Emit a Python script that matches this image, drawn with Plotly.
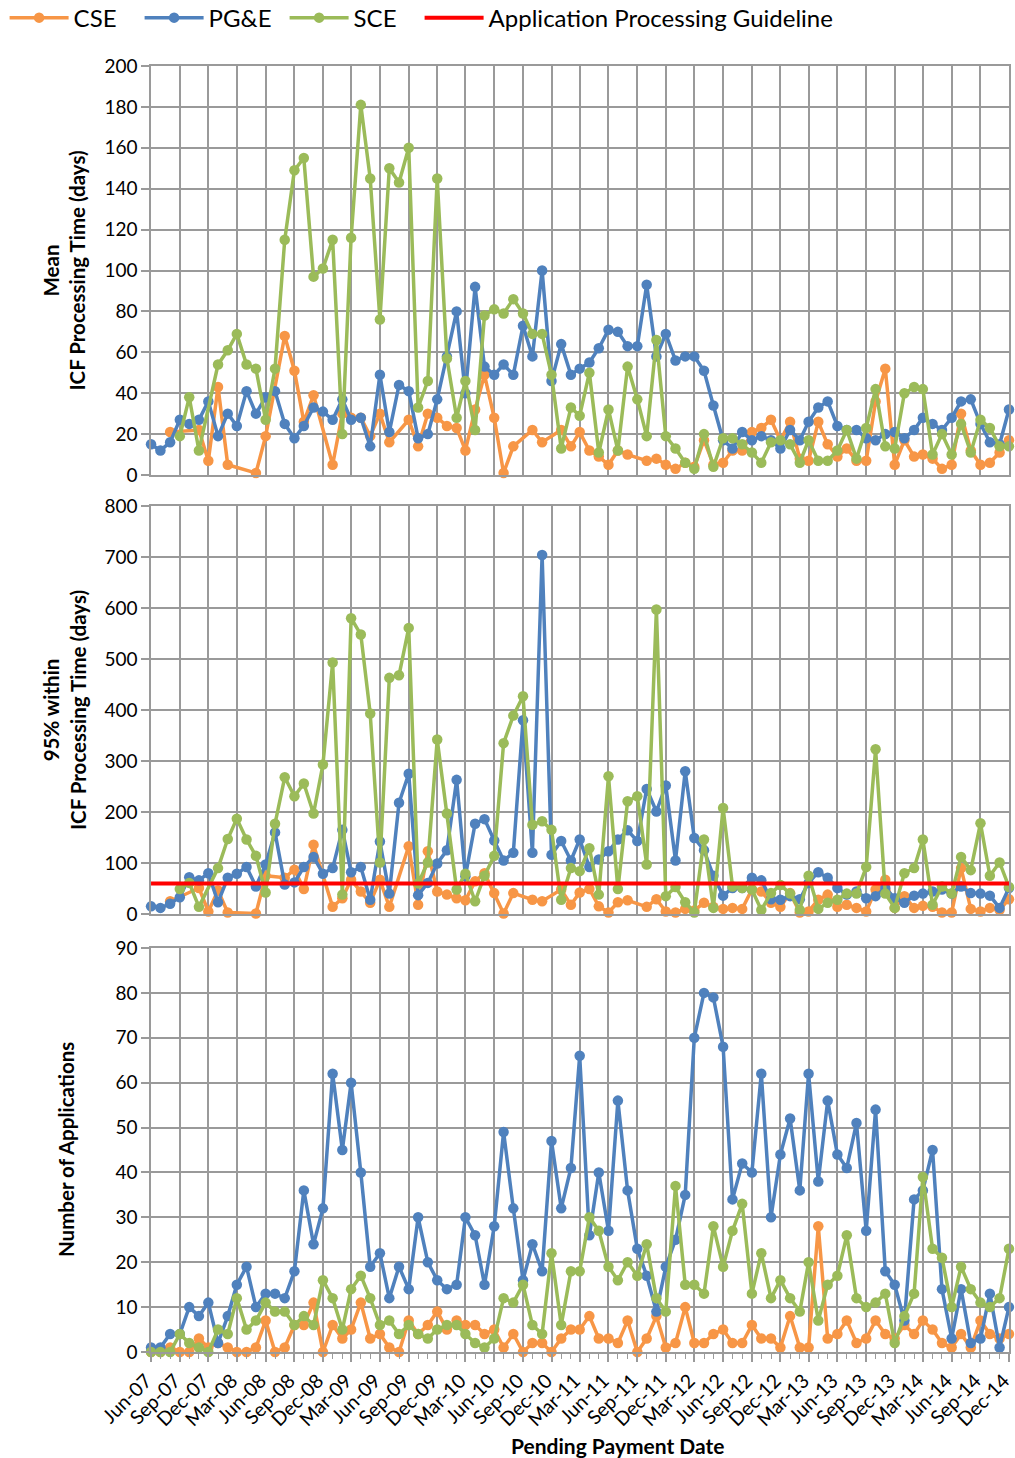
import pandas as pd
import plotly.graph_objects as go

N = None
months = pd.date_range("2007-06-01", "2014-12-01", freq="MS")

# Panel 1: mean ICF processing time (days)
cse_mean = [N, N, 21, N, N, 22, 7, 43, 5, N,
            N, 1, 19, N, 68, 51, 26, 39, N, 5,
            30, 28, 28, 19, 30, 16, N, 27, 14, 30,
            28, 24, 23, 12, 32, 49, 28, 1, 14, N,
            22, 16, N, 22, 14, 21, 12, 9, 5, 12,
            10, N, 7, 8, 5, 3, 6, 4, 17, 5,
            6, 12, 12, 21, 23, 27, 17, 26, 8, 7,
            26, 15, 9, 13, 7, 7, 36, 52, 5, 17,
            9, 10, 8, 3, 5, 30, 12, 5, 6, 11,
            17]
pge_mean = [15, 12, 16, 27, 25, 27, 36, 19, 30, 24,
            41, 30, 38, 41, 25, 18, 24, 33, 31, 27,
            37, 27, 28, 14, 49, 21, 44, 41, 18, 20,
            37, 58, 80, 40, 92, 53, 49, 54, 49, 73,
            58, 100, 46, 64, 49, 52, 55, 62, 71, 70,
            63, 63, 93, 58, 69, 56, 58, 58, 51, 34,
            17, 13, 21, 17, 19, 17, 13, 22, 17, 26,
            33, 36, 24, 22, 22, 18, 17, 20, 21, 18,
            22, 28, 25, 22, 28, 36, 37, 25, 16, 15,
            32]
sce_mean = [N, N, N, 19, 38, 12, N, 54, 61, 69,
            54, 52, 27, 52, 115, 149, 155, 97, 101, 115,
            20, 116, 181, 145, 76, 150, 143, 160, 33, 46,
            145, 57, 28, 46, 22, 78, 81, 79, 86, 79,
            69, 69, 49, 13, 33, 29, 50, 11, 32, 12,
            53, 37, 19, 66, 19, 13, 6, 3, 20, 4,
            18, 18, 15, 11, 6, 16, 17, 15, 6, 17,
            7, 7, 12, 22, 8, 23, 42, 14, 13, 40,
            43, 42, 10, 20, 10, 25, 11, 27, 23, 14,
            14]

# Panel 2: 95% within ICF processing time (days)
cse_p95 = [N, N, 25, N, N, 51, 5, 46, 3, N,
           N, 1, 75, N, 71, 87, 49, 136, N, 14,
           31, 67, 44, 22, 67, 14, N, 133, 18, 123,
           44, 38, 31, 27, 64, 80, 41, 1, 41, N,
           28, 25, N, 48, 18, 42, 49, 15, 3, 23,
           27, N, 14, 29, 5, 3, 10, 7, 22, 14,
           10, 12, 10, 48, 44, 22, 14, 41, 3, 5,
           28, 38, 14, 18, 12, 5, 48, 67, 12, 35,
           12, 16, 14, 3, 3, 90, 10, 5, 12, 8,
           29]
pge_p95 = [15, 12, 20, 33, 72, 66, 80, 23, 71, 79,
           92, 54, 97, 160, 58, 62, 92, 112, 79, 90,
           165, 82, 92, 28, 142, 40, 218, 275, 37, 61,
           99, 125, 263, 74, 177, 186, 144, 105, 120, 380,
           120, 704, 116, 143, 105, 146, 92, 107, 123, 146,
           164, 143, 245, 201, 252, 105, 280, 149, 125, 75,
           36, 51, 51, 71, 66, 29, 28, 35, 29, 61,
           82, 71, 51, 38, 44, 31, 35, 51, 31, 22,
           36, 40, 44, 48, 40, 54, 41, 40, 36, 12,
           51]
sce_p95 = [N, N, N, 49, 61, 14, N, 90, 147, 187,
           146, 114, 42, 177, 268, 231, 256, 197, 293, 493,
           38, 580, 548, 393, 101, 463, 468, 561, 60, 101,
           342, 197, 48, 79, 25, 75, 114, 335, 389, 427,
           175, 182, 165, 28, 90, 84, 129, 38, 270, 49,
           221, 231, 97, 597, 35, 53, 23, 3, 146, 12,
           208, 54, 51, 48, 8, 41, 57, 40, 8, 75,
           10, 22, 28, 40, 40, 92, 323, 40, 12, 80,
           90, 146, 18, 54, 40, 112, 86, 178, 75, 101,
           53]
GUIDELINE = 60

# Panel 3: number of applications
cse_n = [0, 0, 1, 0, 0, 3, 1, 2, 1, 0,
         0, 1, 7, 0, 1, 6, 6, 11, 0, 6,
         3, 5, 11, 3, 4, 1, 0, 7, 4, 6,
         9, 5, 7, 6, 6, 4, 5, 1, 4, 0,
         2, 2, 0, 3, 5, 5, 8, 3, 3, 2,
         7, 0, 3, 8, 1, 2, 10, 2, 2, 4,
         5, 2, 2, 6, 3, 3, 1, 8, 1, 1,
         28, 3, 4, 7, 2, 3, 7, 4, 3, 6,
         4, 7, 5, 2, 1, 4, 1, 7, 4, 3,
         4]
pge_n = [1, 1, 4, 4, 10, 8, 11, 2, 8, 15,
         19, 10, 13, 13, 12, 18, 36, 24, 32, 62,
         45, 60, 40, 19, 22, 12, 19, 14, 30, 20,
         16, 14, 15, 30, 26, 15, 28, 49, 32, 16,
         24, 18, 47, 32, 41, 66, 26, 40, 27, 56,
         36, 23, 17, 9, 19, 25, 35, 70, 80, 79,
         68, 34, 42, 40, 62, 30, 44, 52, 36, 62,
         38, 56, 44, 41, 51, 27, 54, 18, 15, 7,
         34, 36, 45, 14, 3, 14, 2, 3, 13, 1,
         10]
sce_n = [0, 0, 0, 4, 2, 1, 0, 5, 4, 12,
         5, 7, 11, 9, 9, 6, 8, 6, 16, 12,
         5, 14, 17, 12, 6, 7, 4, 6, 4, 3,
         5, 6, 6, 4, 2, 1, 3, 12, 11, 15,
         6, 4, 22, 6, 18, 18, 30, 27, 19, 16,
         20, 17, 24, 12, 9, 37, 15, 15, 13, 28,
         19, 27, 33, 13, 22, 12, 16, 12, 9, 20,
         7, 15, 17, 26, 12, 10, 11, 13, 2, 8,
         13, 39, 23, 21, 10, 19, 14, 11, 10, 12,
         23]

COLORS = {"CSE": "#F79646", "PG&E": "#4F81BD", "SCE": "#9BBB59"}
LEGEND_OF = {"CSE": "legend", "PG&E": "legend2", "SCE": "legend3"}
FONT = "Lato, 'Open Sans', sans-serif"
GRID = "#9a9a9a"

panels = [
    ("y", {"CSE": cse_mean, "PG&E": pge_mean, "SCE": sce_mean}),
    ("y2", {"CSE": cse_p95, "PG&E": pge_p95, "SCE": sce_p95}),
    ("y3", {"CSE": cse_n, "PG&E": pge_n, "SCE": sce_n}),
]
xrefs = {"y": "x", "y2": "x2", "y3": "x3"}

fig = go.Figure()
for k, (yref, series) in enumerate(panels):
    for name, vals in series.items():
        fig.add_trace(go.Scatter(
            x=months, y=vals, name=name, mode="lines+markers",
            line=dict(color=COLORS[name], width=3.5),
            marker=dict(color=COLORS[name], size=10.5),
            connectgaps=True, cliponaxis=False,
            xaxis=xrefs[yref], yaxis=yref,
            legendgroup=name, showlegend=(k == 0), legend=LEGEND_OF[name],
        ))

fig.add_trace(go.Scatter(
    x=[months[0], months[-1]], y=[GUIDELINE, GUIDELINE],
    name="Application Processing Guideline", mode="lines",
    line=dict(color="#FF0000", width=4),
    xaxis="x2", yaxis="y2", showlegend=True, legend="legend4",
))

x_start = months[0] - pd.Timedelta(hours=2)
x_end = months[-1] + pd.Timedelta(hours=2)
tick_vals = list(months[::3])
tick_text = [m.strftime("%b-%y") for m in tick_vals]

xcommon = dict(
    type="date", range=[x_start, x_end], tickvals=tick_vals, ticktext=tick_text,
    showgrid=True, gridcolor=GRID, gridwidth=1.5,
    showline=True, linecolor=GRID, linewidth=1.5, mirror=True,
    zeroline=False, automargin=False,
)
ycommon = dict(
    showgrid=True, gridcolor=GRID, gridwidth=1.5,
    showline=True, linecolor=GRID, linewidth=1.5, mirror=True,
    ticks="outside", ticklen=8, tickcolor=GRID, tickwidth=1.5,
    zeroline=False, automargin=False,
    tickfont=dict(family=FONT, size=19, color="#000"),
)

H_TOTAL = 1286.0
def dom(top_px, bottom_px):
    return [(1352 - bottom_px) / H_TOTAL, (1352 - top_px) / H_TOTAL]

def px_to_xpaper(px):
    return (px - 151) / 858.0

def legend_at(px):
    return dict(orientation="h", x=px_to_xpaper(px), xanchor="left", y=1.0373,
                yanchor="middle", font=dict(family=FONT, size=24, color="#000"),
                bgcolor="rgba(0,0,0,0)", itemwidth=59)

fig.update_layout(
    width=1015, height=1458,
    margin=dict(l=151, r=6, t=66, b=106, autoexpand=False),
    paper_bgcolor="white", plot_bgcolor="white",
    font=dict(family=FONT, color="#000"),
    xaxis=dict(**xcommon, domain=[0, 1], anchor="y", showticklabels=False, matches="x3"),
    xaxis2=dict(**xcommon, domain=[0, 1], anchor="y2", showticklabels=False, matches="x3"),
    xaxis3=dict(**xcommon, domain=[0, 1], anchor="y3", showticklabels=True,
                tickangle=-45, ticklabeloverflow="allow", ticklabelshift=-5,
                ticks="outside", ticklen=8, tickcolor=GRID, tickwidth=1.5,
                tickfont=dict(family=FONT, size=19.5, color="#000"),
                minor=dict(dtick="M1", tick0=months[0], ticks="outside", ticklen=5,
                           tickcolor=GRID, tickwidth=1, showgrid=False)),
    yaxis=dict(**ycommon, domain=dom(66, 475), range=[0, 200], dtick=20, anchor="x"),
    yaxis2=dict(**ycommon, domain=dom(506, 914), range=[0, 800], dtick=100, anchor="x2"),
    yaxis3=dict(**ycommon, domain=dom(948, 1352), range=[0, 90], dtick=10, anchor="x3"),
    legend=legend_at(4.6),
    legend2=legend_at(139.6),
    legend3=legend_at(284.6),
    legend4=legend_at(419.6),
    showlegend=True,
)

ann = [
    dict(text="<b>Mean<br>ICF Processing Time (days)</b>", x=px_to_xpaper(64), xref="paper",
         y=0.5, yref="y domain", textangle=-90, showarrow=False,
         font=dict(family=FONT, size=20.5, color="#000"), xanchor="center", yanchor="middle"),
    dict(text="<b>95% within<br>ICF Processing Time (days)</b>", x=px_to_xpaper(64), xref="paper",
         y=0.5, yref="y2 domain", textangle=-90, showarrow=False,
         font=dict(family=FONT, size=20.5, color="#000"), xanchor="center", yanchor="middle"),
    dict(text="<b>Number of Applications</b>", x=px_to_xpaper(66), xref="paper",
         y=0.5, yref="y3 domain", textangle=-90, showarrow=False,
         font=dict(family=FONT, size=20.5, color="#000"), xanchor="center", yanchor="middle"),
    dict(text="<b>Pending Payment Date</b>", x=px_to_xpaper(618), xref="paper",
         y=(1352 - 1445) / H_TOTAL, yref="paper", showarrow=False,
         font=dict(family=FONT, size=21, color="#000"), xanchor="center", yanchor="middle"),
]
fig.update_layout(annotations=ann)

fig.write_html("out.html")
